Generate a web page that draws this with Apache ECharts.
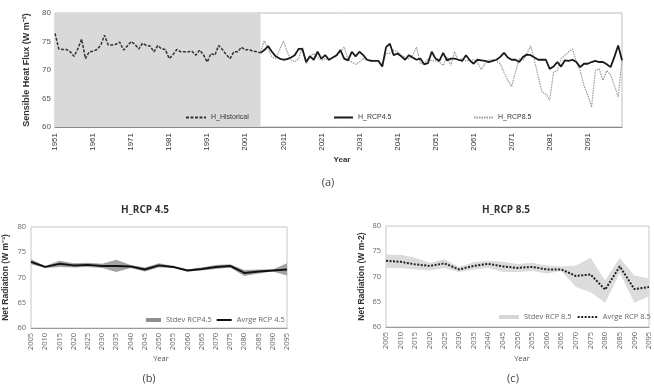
<!DOCTYPE html>
<html>
<head>
<meta charset="utf-8">
<script src="https://cdn.jsdelivr.net/npm/echarts@6/dist/echarts.min.js"></script>
<style>
  html, body { margin: 0; padding: 0; background: #fff; }
  #chart { width: 654px; height: 385px; }
</style>
</head>
<body>
<div id="chart"></div>
<script>
// ---- data (a): annual sensible heat flux ----
const firstYear = 1951
const lastYear = 2100
const rcpStart = 2005

const histValues = [
  76.4, 73.7, 73.6, 73.6, 73.2, 72.4, 73.7, 75.4, 72.0, 73.2,
  73.3, 73.6, 74.3, 76.1, 74.4, 74.4, 74.5, 74.9, 73.5, 74.2,
  75.0, 74.5, 73.7, 74.7, 74.3, 74.2, 73.2, 74.3, 73.7, 73.6,
  72.0, 72.7, 73.6, 73.2, 73.2, 73.2, 73.3, 72.6, 73.5, 72.7,
  71.4, 72.9, 72.6, 74.3, 73.6, 72.7, 72.0, 73.2, 73.2, 74.0,
  73.5, 73.6, 73.3, 73.2, 73.0
]

const rcp45Values = [
  73.0, 73.5, 74.2, 73.2, 72.4, 72.0, 71.8, 71.9, 72.2, 72.6,
  73.7, 73.7, 71.4, 72.4, 71.8, 73.2, 72.0, 72.6, 71.8, 72.2,
  72.6, 73.5, 72.0, 71.7, 73.2, 72.4, 73.2, 72.6, 71.8, 71.6,
  71.6, 71.6, 70.6, 74.0, 74.6, 72.6, 72.9, 72.4, 71.8, 72.6,
  72.2, 71.8, 72.0, 71.0, 71.2, 73.2, 72.0, 71.6, 73.0, 71.7,
  72.0, 72.0, 71.8, 71.6, 72.6, 71.7, 71.1, 71.8, 71.7, 71.6,
  71.4, 71.6, 71.8, 72.3, 73.0, 72.2, 71.8, 71.8, 71.4, 72.3,
  72.7, 72.6, 72.2, 71.8, 71.8, 71.8, 70.2, 70.6, 71.4, 70.6,
  71.7, 71.6, 71.8, 71.4, 70.5, 71.1, 71.1, 71.4, 71.6, 71.4,
  71.4, 71.0, 70.5, 72.3, 74.3, 71.7
]

const rcp85Values = [
  73.2, 75.1, 73.6, 72.3, 72.0, 73.5, 75.1, 73.2, 71.8, 71.4,
  72.0, 74.0, 71.1, 72.4, 72.9, 72.3, 71.7, 72.0, 71.7, 72.2,
  72.4, 73.2, 74.0, 71.8, 71.4, 71.0, 71.4, 72.0, 71.7, 71.8,
  71.6, 71.6, 70.8, 72.9, 72.9, 73.5, 73.2, 72.6, 72.2, 72.0,
  72.6, 74.0, 71.1, 71.1, 72.0, 71.6, 71.6, 71.4, 70.8, 72.3,
  70.8, 73.2, 71.6, 72.0, 71.6, 71.7, 71.8, 71.4, 70.1, 71.1,
  71.8, 71.8, 71.6, 71.1, 69.6, 68.2, 67.1, 69.6, 72.0, 71.7,
  72.9, 74.2, 71.7, 68.8, 66.1, 65.8, 64.7, 69.6, 69.9, 72.0,
  72.6, 73.2, 73.7, 71.4, 69.9, 67.3, 65.6, 63.5, 69.9, 70.2,
  68.2, 69.9, 69.1, 67.3, 65.3, 71.7
]

// ---- data (b), (c): 5-year means with stdev band ----
const periods = ['2005', '2010', '2015', '2020', '2025', '2030', '2035', '2040', '2045', '2050',
  '2055', '2060', '2065', '2070', '2075', '2080', '2085', '2090', '2095']

const avg45 = [73.1, 72.1, 72.7, 72.4, 72.5, 72.3, 72.3, 72.2, 71.6, 72.4,
  72.1, 71.4, 71.7, 72.1, 72.3, 70.9, 71.2, 71.4, 71.6]
const low45 = [72.6, 71.9, 72.1, 72.0, 72.1, 71.9, 71.1, 71.9, 71.2, 72.0,
  71.9, 71.2, 71.4, 71.7, 72.0, 70.3, 70.8, 71.2, 70.4]
const high45 = [73.6, 72.3, 73.3, 72.8, 72.9, 72.7, 73.5, 72.5, 72.0, 72.8,
  72.3, 71.6, 72.0, 72.5, 72.6, 71.5, 71.6, 71.6, 72.8]

const avg85 = [73.1, 72.9, 72.4, 72.1, 72.6, 71.4, 72.1, 72.5, 72.0, 71.7,
  71.9, 71.4, 71.4, 70.1, 70.4, 67.4, 72.0, 67.5, 67.9]
const low85 = [71.7, 71.7, 71.4, 71.2, 71.7, 70.9, 71.4, 71.7, 70.9, 70.9,
  71.1, 70.6, 71.1, 67.9, 66.9, 64.8, 70.7, 64.8, 66.1]
const high85 = [74.3, 74.3, 73.7, 72.7, 73.4, 71.9, 72.8, 73.1, 72.9, 72.5,
  72.7, 72.2, 72.0, 72.2, 73.7, 69.2, 73.7, 70.2, 69.6]

// build the year axis and pad the series onto it
const years = []
for (let y = firstYear; y <= lastYear; y++) years.push(String(y))
const histData = years.map((y, i) => i < histValues.length ? histValues[i] : '-')
const rcpOffset = rcpStart - firstYear
const rcp45Data = years.map((y, i) => i >= rcpOffset ? rcp45Values[i - rcpOffset] : '-')
const rcp85Data = years.map((y, i) => i >= rcpOffset ? rcp85Values[i - rcpOffset] : '-')

// stacked band: bottom = low, top = high - low
const band45 = high45.map((v, i) => +(v - low45[i]).toFixed(2))
const band85 = high85.map((v, i) => +(v - low85[i]).toFixed(2))

const chart = echarts.init(document.getElementById('chart'))

const tickFont = { fontFamily: 'Liberation Sans', fontSize: 8, color: '#555' }
const smallFont = { fontFamily: 'Open Sans', fontSize: 7.5, color: '#666' }
const topLegendFont = { fontFamily: 'Liberation Sans', fontSize: 7, color: '#333' }
// hide the symbol dot, keep the line sample
const noDot = { opacity: 0 }

const option = {
  animation: false,
  backgroundColor: '#fff',
  title: [
    { text: 'Year', left: 337, top: 151, textAlign: 'center',
      textStyle: { fontFamily: 'Liberation Sans', fontSize: 8, fontWeight: 'bold', color: '#333' } },
    { text: '(a)', left: 323, top: 172, textAlign: 'center',
      textStyle: { fontFamily: 'Open Sans', fontSize: 11, fontWeight: 'normal', color: '#444' } },
    { text: 'H_RCP 4.5', left: 140, top: 200, textAlign: 'center',
      textStyle: { fontFamily: 'Open Sans', fontSize: 10, fontWeight: 'bold', color: '#333' } },
    { text: 'H_RCP 8.5', left: 501, top: 200, textAlign: 'center',
      textStyle: { fontFamily: 'Open Sans', fontSize: 10, fontWeight: 'bold', color: '#333' } },
    { text: 'Year', left: 156, top: 350, textAlign: 'center',
      textStyle: { fontFamily: 'Open Sans', fontSize: 7.5, fontWeight: 'normal', color: '#555' } },
    { text: 'Year', left: 517, top: 350, textAlign: 'center',
      textStyle: { fontFamily: 'Open Sans', fontSize: 7.5, fontWeight: 'normal', color: '#555' } },
    { text: '(b)', left: 144, top: 368, textAlign: 'center',
      textStyle: { fontFamily: 'Open Sans', fontSize: 11, fontWeight: 'normal', color: '#444' } },
    { text: '(c)', left: 508, top: 368, textAlign: 'center',
      textStyle: { fontFamily: 'Open Sans', fontSize: 11, fontWeight: 'normal', color: '#444' } }
  ],
  legend: [
    { left: 185, top: 114, padding: 0, itemWidth: 20, itemHeight: 8, itemGap: 4,
      itemStyle: noDot, textStyle: topLegendFont, data: ['H_Historical'] },
    { left: 333, top: 114, padding: 0, itemWidth: 19, itemHeight: 8,
      itemStyle: noDot, textStyle: topLegendFont, data: ['H_RCP4.5'] },
    { left: 473, top: 114, padding: 0, itemWidth: 19, itemHeight: 8,
      itemStyle: noDot, textStyle: topLegendFont, data: ['H_RCP8.5'] },
    { left: 146, top: 316, padding: 0, itemWidth: 15, itemHeight: 4, itemGap: 4,
      itemStyle: noDot, textStyle: smallFont,
      data: [{ name: 'Stdev RCP4.5', icon: 'rect', itemStyle: { opacity: 1, color: '#8f8f8f' } }, 'Avrge RCP 4.5'] },
    { left: 499, top: 313, padding: 0, itemWidth: 20, itemHeight: 4, itemGap: 5,
      itemStyle: noDot, textStyle: smallFont,
      data: [{ name: 'Stdev RCP 8.5', icon: 'rect', itemStyle: { opacity: 1, color: '#d6d6d6' } }, 'Avrge RCP 8.5'] }
  ],
  grid: [
    { left: 55, top: 13, width: 567, height: 114, show: true, borderColor: '#bdbdbd', borderWidth: 1 },
    { left: 25, top: 227, width: 262, height: 101, show: true, borderColor: '#c8c8c8', borderWidth: 1 },
    { left: 386, top: 226, width: 263, height: 101, show: true, borderColor: '#c8c8c8', borderWidth: 1 }
  ],
  xAxis: [
    { gridIndex: 0, type: 'category', data: years, boundaryGap: false,
      axisLine: { lineStyle: { color: '#888' } }, axisTick: { show: false },
      axisLabel: Object.assign({ rotate: 90, interval: 9, margin: 6 }, tickFont, { color: '#333' }) },
    { gridIndex: 1, type: 'category', data: periods, boundaryGap: false,
      axisLine: { lineStyle: { color: '#999' } }, axisTick: { show: false },
      axisLabel: Object.assign({ rotate: 90, interval: 0, margin: 5 }, smallFont) },
    { gridIndex: 2, type: 'category', data: periods, boundaryGap: false,
      axisLine: { lineStyle: { color: '#999' } }, axisTick: { show: false },
      axisLabel: Object.assign({ rotate: 90, interval: 0, margin: 5 }, smallFont) }
  ],
  yAxis: [
    { gridIndex: 0, type: 'value', min: 60, max: 80, interval: 5,
      name: 'Sensible Heat Flux (W m⁻²)', nameLocation: 'middle', nameGap: 16,
      nameTextStyle: { fontFamily: 'Liberation Sans', fontSize: 9, fontWeight: 'bold', color: '#333' },
      axisLine: { show: false }, axisTick: { show: false }, splitLine: { show: false },
      axisLabel: Object.assign({ margin: 4 }, tickFont) },
    { gridIndex: 1, type: 'value', min: 60, max: 80, interval: 5,
      name: 'Net Radiation (W m⁻²)', nameLocation: 'middle', nameGap: 21,
      nameTextStyle: { fontFamily: 'Liberation Sans', fontSize: 8.5, fontWeight: 'bold', color: '#333' },
      axisLine: { show: false }, axisTick: { show: false }, splitLine: { show: false },
      axisLabel: Object.assign({ margin: 5 }, smallFont) },
    { gridIndex: 2, type: 'value', min: 60, max: 80, interval: 5,
      name: 'Net Radiation (W m-2)', nameLocation: 'middle', nameGap: 20,
      nameTextStyle: { fontFamily: 'Liberation Sans', fontSize: 8.5, fontWeight: 'bold', color: '#333' },
      axisLine: { show: false }, axisTick: { show: false }, splitLine: { show: false },
      axisLabel: Object.assign({ margin: 5 }, smallFont) }
  ],
  series: [
    // (a)
    { name: 'H_Historical', type: 'line', xAxisIndex: 0, yAxisIndex: 0, data: histData,
      symbol: 'none', z: 3, color: '#333',
      lineStyle: { color: '#333', width: 1.5, type: [3, 1.5] },
      markArea: { silent: true, itemStyle: { color: '#d9d9d9' },
        data: [[{ xAxis: String(firstYear) }, { xAxis: String(rcpStart) }]] } },
    { name: 'H_RCP8.5', type: 'line', xAxisIndex: 0, yAxisIndex: 0, data: rcp85Data,
      symbol: 'none', z: 2, color: '#999',
      lineStyle: { color: '#9a9a9a', width: 1.2, type: [1.5, 1] } },
    { name: 'H_RCP4.5', type: 'line', xAxisIndex: 0, yAxisIndex: 0, data: rcp45Data,
      symbol: 'none', z: 4, color: '#1a1a1a',
      lineStyle: { color: '#1a1a1a', width: 1.8 } },

    // (b)
    { name: 'low45', type: 'line', xAxisIndex: 1, yAxisIndex: 1, data: low45,
      stack: 'b45', symbol: 'none', lineStyle: { opacity: 0 }, silent: true },
    { name: 'Stdev RCP4.5', type: 'line', xAxisIndex: 1, yAxisIndex: 1, data: band45,
      stack: 'b45', symbol: 'none', color: '#8f8f8f',
      itemStyle: { color: '#8f8f8f' },
      lineStyle: { opacity: 0 }, areaStyle: { color: '#a3a3a3', opacity: 1 } },
    { name: 'Avrge RCP 4.5', type: 'line', xAxisIndex: 1, yAxisIndex: 1, data: avg45,
      symbol: 'none', color: '#111', lineStyle: { color: '#111', width: 2 } },

    // (c)
    { name: 'low85', type: 'line', xAxisIndex: 2, yAxisIndex: 2, data: low85,
      stack: 'b85', symbol: 'none', lineStyle: { opacity: 0 }, silent: true },
    { name: 'Stdev RCP 8.5', type: 'line', xAxisIndex: 2, yAxisIndex: 2, data: band85,
      stack: 'b85', symbol: 'none', color: '#d6d6d6',
      itemStyle: { color: '#d6d6d6' },
      lineStyle: { opacity: 0 }, areaStyle: { color: '#dcdcdc', opacity: 1 } },
    { name: 'Avrge RCP 8.5', type: 'line', xAxisIndex: 2, yAxisIndex: 2, data: avg85,
      symbol: 'none', color: '#222', lineStyle: { color: '#222', width: 2, type: [2, 1.5] } }
  ]
}

chart.setOption(option)
</script>
</body>
</html>
